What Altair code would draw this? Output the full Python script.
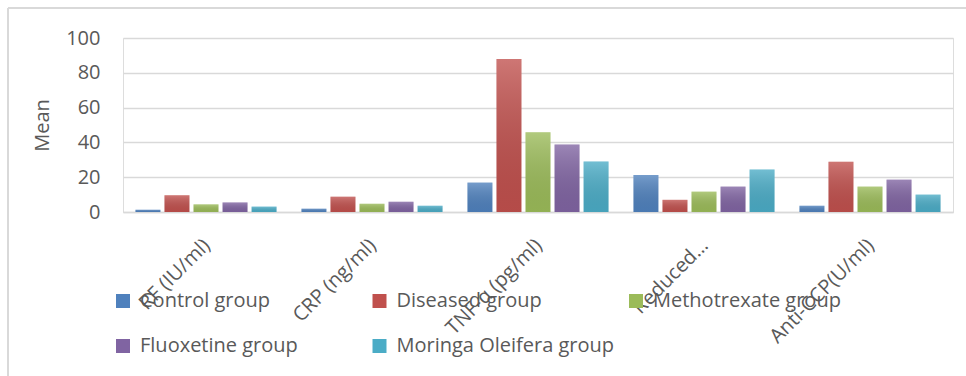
import altair as alt
import pandas as pd

categories = ["RF (IU/ml)", "CRP (ng/ml)", "TNF-α (pg/ml)", "Reduced…", "Anti-CCP(U/ml)"]
series = ["Control group", "Diseased group", "Methotrexate group", "Fluoxetine group", "Moringa Oleifera group"]
control = [1.3, 1.9, 16.9, 21.3, 3.6]
diseased = [9.6, 8.8, 87.9, 7.0, 28.9]
methotrexate = [4.4, 4.8, 45.8, 11.7, 14.6]
fluoxetine = [5.5, 5.9, 38.8, 14.6, 18.6]
moringa = [3.1, 3.6, 29.0, 24.4, 10.0]
colors = ["#4F81BD", "#C0504D", "#9BBB59", "#8064A2", "#4BACC6"]
y_ticks = [0, 20, 40, 60, 80, 100]

rows = []
for s, vals in zip(series, [control, diseased, methotrexate, fluoxetine, moringa]):
    for c, v in zip(categories, vals):
        rows.append({"category": c, "series": s, "value": v})
df = pd.DataFrame(rows)

FONT = "Open Sans"
GREY = "#595959"

x_enc = alt.X("category:N", sort=categories,
              scale=alt.Scale(paddingInner=0.15, paddingOuter=0.075),
              axis=alt.Axis(title=None, labelAngle=-45, labelAlign="right", labelBaseline="middle",
                            labelFontSize=20, labelColor=GREY, labelFont=FONT, labelPadding=30,
                            labelOffset=1,
                            ticks=False, domainColor="#D9D9D9", domainWidth=1.5, labelLimit=300))
xo_enc = alt.XOffset("series:N", sort=series, scale=alt.Scale(paddingInner=0.14, paddingOuter=0))
y_enc = alt.Y("value:Q", scale=alt.Scale(domain=[0, 100], nice=False),
              axis=alt.Axis(title="Mean", values=y_ticks, labelFontSize=20, labelColor=GREY,
                            labelFont=FONT, titleFont=FONT, titleFontSize=20, titleColor=GREY,
                            titleFontWeight="normal", titlePadding=13, labelPadding=23,
                            ticks=False, domain=False, gridColor="#D9D9D9", gridWidth=1.5))

bars = alt.Chart(df).mark_bar().encode(
    x=x_enc, xOffset=xo_enc, y=y_enc,
    color=alt.Color("series:N", sort=series,
                    scale=alt.Scale(domain=series, range=colors),
                    legend=alt.Legend(title=None, orient="none", legendX=-10, legendY=253,
                                      direction="horizontal",
                                      columns=3, gridAlign="all", symbolType="square",
                                      symbolSize=196, symbolStrokeWidth=0, labelFontSize=20,
                                      labelFont=FONT, labelColor=GREY, labelLimit=300,
                                      labelOffset=7, columnPadding=11.5, rowPadding=25)),
)

shine = alt.Chart(df).mark_bar(
    color=alt.Gradient(gradient="linear", x1=0, y1=0, x2=0, y2=1,
                       stops=[alt.GradientStop(color="rgba(255,255,255,0.22)", offset=0),
                              alt.GradientStop(color="rgba(0,0,0,0.06)", offset=1)])
).encode(x=x_enc, xOffset=xo_enc, y=y_enc)

frame_df = pd.DataFrame({"k": [0]})
top_rule = alt.Chart(frame_df).mark_rule(color="#D9D9D9", strokeWidth=2).encode(
    x=alt.value(-115), x2=alt.value(900), y=alt.value(-30))
left_rule = alt.Chart(frame_df).mark_rule(color="#D9D9D9", strokeWidth=2).encode(
    x=alt.value(-115), y=alt.value(-30), y2=alt.value(400))

chart = alt.layer(bars, shine, top_rule, left_rule).properties(
    width=830, height=174,
    autosize=alt.AutoSizeParams(type="none"),
    padding={"left": 123, "top": 38, "right": 13, "bottom": 164},
).configure_view(stroke=None).configure(font=FONT, background="white")

chart.save("out.html", embed_options={"renderer": "svg", "actions": False})
